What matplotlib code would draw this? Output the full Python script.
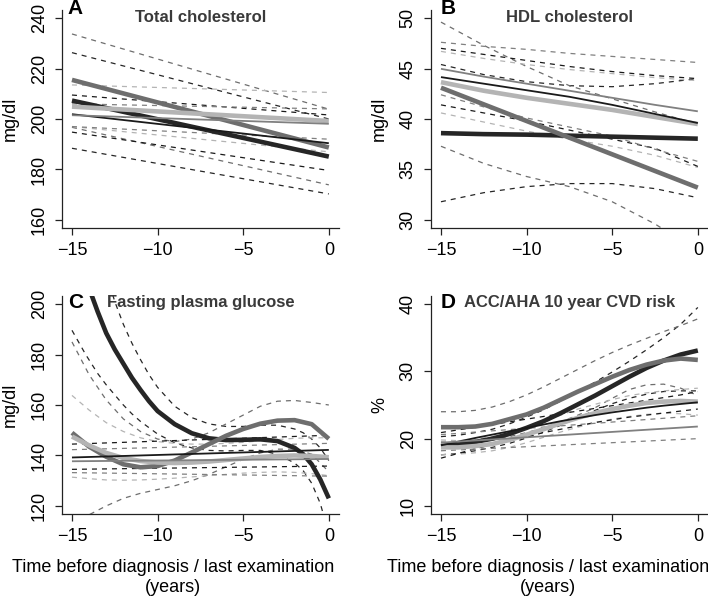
import matplotlib
matplotlib.use("Agg")
import matplotlib.pyplot as plt

plt.rcParams['font.family'] = ['Liberation Sans', 'DejaVu Sans']

W, H = 708, 598

# order of series: thick black, thick dark grey, thick light grey, thin black, thin grey
cols = ['#262626', '#6e6e6e', '#b4b4b4', '#1a1a1a', '#808080']
lws = [3.3, 3.3, 3.3, 1.3, 1.3]

yrs = [-15, -14, -13, -12, -11, -10, -9, -8, -7, -6, -5, -4, -3, -2, -1, 0]
ends = [-15, 0]
b_x = [-15, -12.5, -10, -7.5, -5, -2.5, 0]
c_x1 = [-15, -14.2, -13.5, -13, -12.5, -12, -11.5, -11, -10.5, -10, -9, -8, -7, -6,
        -5, -4, -3, -2, -1.5, -1, -0.5, 0]

# A: total cholesterol
a_x = [ends] * 5
a_mid = [[207.3, 185.1], [215.5, 188.7], [204.9, 199.2], [201.9, 190.4], [201.5, 198.1]]
a_hi = [[226.3, 200.0], [233.7, 203.9], [213.5, 210.5], [209.5, 201.6], [206.0, 204.0]]
a_lo = [[188.4, 170.3], [196.7, 173.9], [197.0, 187.0], [194.8, 179.6], [197.0, 192.0]]

# B: HDL cholesterol
b_mid = [[38.6, 38.5, 38.45, 38.35, 38.25, 38.15, 38.05],
         [43.1, 41.45, 39.8, 38.15, 36.5, 34.85, 33.2],
         [43.65, 42.8, 42.1, 41.5, 40.9, 40.2, 39.5],
         [44.15, 43.5, 42.85, 42.2, 41.4, 40.5, 39.6],
         [44.97, 44.2, 43.5, 42.8, 42.1, 41.4, 40.76]]
b_hi = [[45.4, 44.4, 43.7, 43.3, 43.2, 43.5, 44.0],
        [49.6, 47.3, 45.2, 43.3, 42.0, 40.7, 39.5],
        [46.7, 46.0, 45.4, 44.9, 44.5, 44.1, 43.8],
        [47.0, 46.4, 45.8, 45.2, 44.7, 44.3, 44.0],
        [47.6, 47.2, 46.9, 46.5, 46.2, 45.9, 45.6]]
b_lo = [[31.8, 32.7, 33.3, 33.6, 33.6, 33.1, 32.2],
        [37.3, 35.6, 34.3, 33.3, 31.8, 29.6, 26.9],
        [40.6, 39.7, 38.8, 38.0, 37.3, 36.4, 35.2],
        [41.4, 40.6, 39.8, 38.9, 38.0, 37.1, 35.3],
        [42.4, 41.2, 40.1, 39.2, 38.3, 37.0, 35.8]]

# C: fasting plasma glucose
c_x = [c_x1, yrs, yrs, ends, ends]
c_mid = [[228, 210, 197, 188.5, 182, 176.4, 170.8, 166, 161.5, 157.6, 152.4, 148.8, 146.8, 146.1,
          146.2, 146.4, 145.7, 143, 140.5, 136.5, 130.5, 123],
         [149, 143.5, 139.5, 136.5, 135.3, 135.8, 138, 141.2, 144.5, 147.8, 150.5, 152.6, 153.8, 154, 152.4, 146.6],
         [147.5, 144, 141, 139, 137.8, 137.2, 137, 137.2, 137.6, 138.2, 138.8, 139.4, 139.8, 140, 139.8, 139.3],
         [139.2, 142.2],
         [137.7, 138.6]]
c_hi = [[265, 240, 225, 212, 201, 192, 184.5, 178, 172, 167, 159.5, 155, 152.5, 151.5,
         151.5, 152, 152, 150.5, 149, 146.5, 143, 138],
        [185, 172, 162, 154.5, 149.5, 146.5, 145.5, 146.5, 149, 152.5, 156, 159.5, 161.5, 161.8, 161, 160],
        [163.8, 158, 153, 149.5, 147, 145.5, 144.8, 144.5, 144.5, 144.8, 145.2, 145.8, 146.3, 146.8, 147, 147],
        [144.5, 148.0],
        [142.3, 144.8]]
c_lo = [[189.6, 180, 172.5, 168, 164, 160, 156.5, 153.5, 151, 148.5, 145, 143, 142, 141.8,
         142, 142, 140.5, 137, 134, 129, 121, 109],
        [113, 116.5, 120, 123, 125, 126.5, 128, 130, 132.5, 135.5, 138.5, 141, 142.5, 142.5, 140.5, 133.5],
        [131.4, 130.8, 130.3, 130.2, 130.3, 130.6, 131, 131.5, 132, 132.5, 133, 133.3, 133.5, 133.3, 132.8, 132],
        [134.5, 135.8],
        [133.2, 131.8]]

# D: ACC/AHA 10 year CVD risk
d_x = [yrs, yrs, yrs, yrs, ends]
d_mid = [[18.9, 19.1, 19.5, 20.0, 20.7, 21.6, 22.6, 23.8, 25.1, 26.4, 27.8, 29.2, 30.5, 31.6, 32.5, 33.1],
         [21.7, 21.7, 21.8, 22.2, 22.9, 23.6, 24.6, 25.8, 27.0, 28.1, 29.2, 30.2, 31.0, 31.6, 31.9, 31.7],
         [18.7, 18.7, 18.9, 19.2, 19.8, 20.6, 21.4, 22.3, 23.1, 23.8, 24.4, 24.9, 25.3, 25.5, 25.6, 25.5],
         [19.0, 19.55, 20.1, 20.6, 21.1, 21.6, 22.1, 22.6, 23.05, 23.5, 23.9, 24.25, 24.6, 24.9, 25.15, 25.4],
         [19.4, 21.8]]
d_hi = [[20.3, 20.5, 20.9, 21.4, 22.2, 23.2, 24.3, 25.6, 27.0, 28.4, 29.9, 31.5, 33.2, 35.0, 37.0, 39.5],
        [24.0, 24.0, 24.2, 24.7, 25.5, 26.5, 27.7, 29.0, 30.3, 31.6, 32.8, 33.9, 34.9, 35.9, 36.8, 37.8],
        [19.8, 19.7, 19.9, 20.3, 20.9, 21.7, 22.6, 23.5, 24.4, 25.1, 25.8, 26.4, 26.8, 27.1, 27.3, 27.5],
        [20.9, 21.3, 21.7, 22.1, 22.5, 22.9, 23.3, 23.7, 24.1, 24.5, 24.9, 25.3, 25.7, 26.1, 26.5, 27.0],
        [20.6, 23.4]]
d_lo = [[17.6, 17.8, 18.2, 18.7, 19.3, 20.1, 21.0, 22.0, 23.1, 24.2, 25.2, 26.0, 26.6, 27.0, 27.1, 27.1],
        [19.5, 19.4, 19.5, 19.8, 20.3, 20.9, 21.6, 22.5, 23.5, 24.6, 26.0, 27.3, 28.0, 28.1, 27.5, 26.4],
        [17.6, 17.7, 17.9, 18.2, 18.7, 19.4, 20.2, 21.0, 21.7, 22.4, 22.9, 23.3, 23.6, 23.8, 23.7, 23.5],
        [17.1, 17.8, 18.5, 19.1, 19.7, 20.3, 20.9, 21.4, 21.9, 22.4, 22.8, 23.2, 23.5, 23.8, 24.1, 24.4],
        [18.2, 20.0]]

titles = ['Total cholesterol', 'HDL cholesterol', 'Fasting plasma glucose', 'ACC/AHA 10 year CVD risk']
letters = ['A', 'B', 'C', 'D']
ylabels = ['mg/dl', 'mg/dl', 'mg/dl', '%']
yticks = [[160, 180, 200, 220, 240], [30, 35, 40, 45, 50],
          [120, 140, 160, 180, 200], [10, 20, 30, 40]]
xticks = [-15, -10, -5, 0]


def fx(px):
    return px / W


def fy(py):
    return 1 - py / H


def panel(ax, xs, mid, lo, hi, yt):
    for i in range(5):
        ax.plot(xs[i], hi[i], color=cols[i], lw=0.9, ls=(0, (4, 4)))
        ax.plot(xs[i], lo[i], color=cols[i], lw=0.9, ls=(0, (4, 4)))
    for i in range(5):
        ax.plot(xs[i], mid[i], color=cols[i], lw=lws[i], solid_capstyle='butt')
    rng = yt[-1] - yt[0]
    ax.set_ylim(yt[0] - 0.04 * rng, yt[-1] + 0.04 * rng)
    ax.set_xlim(-15.6, 0.6)
    ax.set_yticks(yt)
    ax.set_xticks(xticks)
    ax.set_xticklabels(['\u221215', '\u221210', '\u22125', '0'])
    for s in ['top', 'right']:
        ax.spines[s].set_visible(False)
    for s in ['left', 'bottom']:
        ax.spines[s].set_linewidth(0.9)
        ax.spines[s].set_color('#222222')
    ax.tick_params(length=5, width=0.9, pad=5, labelsize=13, color='#222222')
    ax.tick_params(axis='y', labelrotation=90)
    for lab in ax.get_yticklabels():
        lab.set_va('center')


fig = plt.figure(figsize=(W / 100, H / 100), dpi=100)
lefts = [61.7, 430.7, 61.7, 430.7]
bottoms = [228, 228, 514, 514]
xlab_cx = [None, None, 173, 548]
data = [(a_x, a_mid, a_lo, a_hi), ([b_x] * 5, b_mid, b_lo, b_hi),
        (c_x, c_mid, c_lo, c_hi), (d_x, d_mid, d_lo, d_hi)]

for k in range(4):
    ax = fig.add_axes([fx(lefts[k]), fy(bottoms[k]), 277.4 / W, 218 / H])
    xs, mid, lo, hi = data[k]
    panel(ax, xs, mid, lo, hi, yticks[k])
    top = bottoms[k] - 218
    cx = lefts[k] + 138.7
    ty = top + 7 if k < 2 else top + 6
    fig.text(fx(cx), fy(ty), titles[k], ha='center', va='center',
             fontsize=12, fontweight='bold', color='#3a3a3a')
    ly = top - 2 if k < 2 else top + 6
    fig.text(fx(lefts[k] + (6 if k % 2 == 0 else 9.5)), fy(ly), letters[k], ha='left', va='center',
             fontsize=15, fontweight='bold', color='black')
    fig.text(fx(lefts[k] - 51), fy(bottoms[k] - 109), ylabels[k], ha='center', va='center',
             rotation=90, fontsize=13)
    if k >= 2:
        fig.text(fx(xlab_cx[k]), fy(572), 'Time before diagnosis / last examination',
                 ha='center', va='baseline', fontsize=13)
        fig.text(fx(xlab_cx[k]), fy(592), '(years)',
                 ha='center', va='baseline', fontsize=13)

fig.savefig('out.png', dpi=100)
